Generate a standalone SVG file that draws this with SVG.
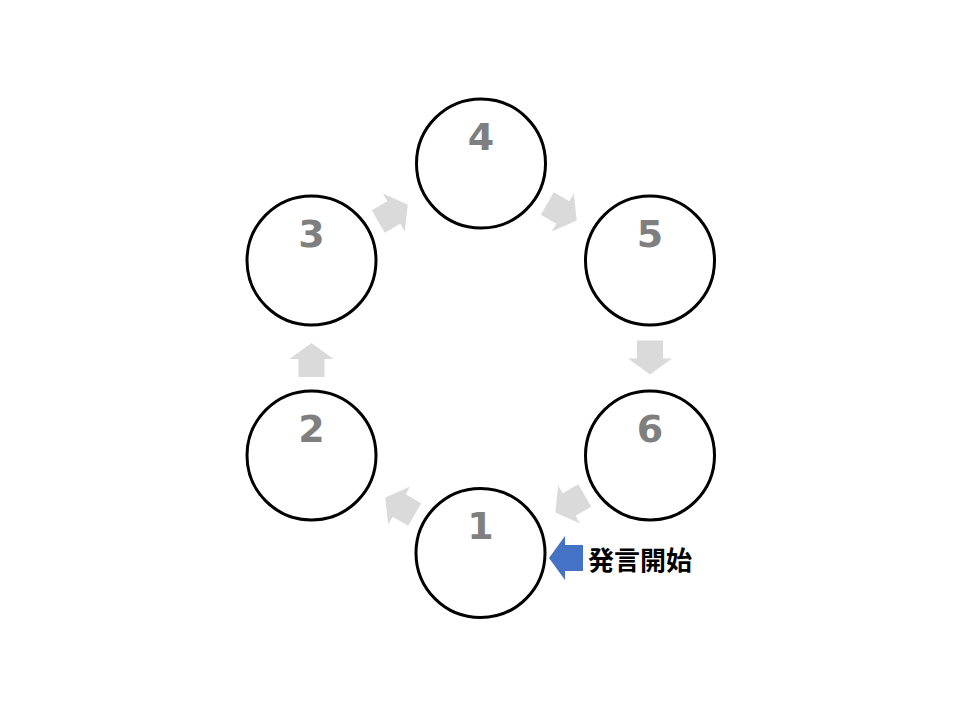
<svg xmlns="http://www.w3.org/2000/svg" width="960" height="720" viewBox="0 0 960 720">
<style>
.c{fill:#fff;stroke:#000;stroke-width:3}
.n{font-family:"DejaVu Sans",sans-serif;font-weight:bold;font-size:38px;fill:#7f7f7f;text-anchor:middle}
.a{fill:#dadada}
.b{fill:#4472c4}
.t{font-family:"Noto Sans CJK JP",sans-serif;font-weight:bold;font-size:26px;fill:#000}
</style>
<defs>
<path id="arr" d="M-17,-13 H1 V-22 L17,0 L1,22 V13 H-17 Z"/>
</defs>
<rect width="960" height="720" fill="#fff"/>
<g id="connectors">
<use href="#arr" class="a" transform="translate(393,213) rotate(-30)"/>
<use href="#arr" class="a" transform="translate(562,212) rotate(30)"/>
<use href="#arr" class="a" transform="translate(650,357.5) rotate(90)"/>
<use href="#arr" class="a" transform="translate(570,504) rotate(150)"/>
<use href="#arr" class="a" transform="translate(400,506) rotate(210)"/>
<use href="#arr" class="a" transform="translate(311.5,360) rotate(-90)"/>
</g>
<g id="node4"><circle class="c" cx="481" cy="163.5" r="64.5"/><text class="n" x="481" y="150">4</text></g>
<g id="node3"><circle class="c" cx="311.5" cy="260.5" r="64.5"/><text class="n" x="311.5" y="247">3</text></g>
<g id="node5"><circle class="c" cx="650" cy="260.5" r="64.5"/><text class="n" x="650" y="247">5</text></g>
<g id="node2"><circle class="c" cx="311.5" cy="455.5" r="64.5"/><text class="n" x="311.5" y="442">2</text></g>
<g id="node6"><circle class="c" cx="650" cy="455.5" r="64.5"/><text class="n" x="650" y="442">6</text></g>
<g id="node1"><circle class="c" cx="480.5" cy="553" r="64.5"/><text class="n" x="480.5" y="539">1</text></g>
<g id="start">
<use href="#arr" class="b" transform="translate(566,558) rotate(180)"/>
<text class="t" x="588" y="570">発言開始</text>
</g>
</svg>
